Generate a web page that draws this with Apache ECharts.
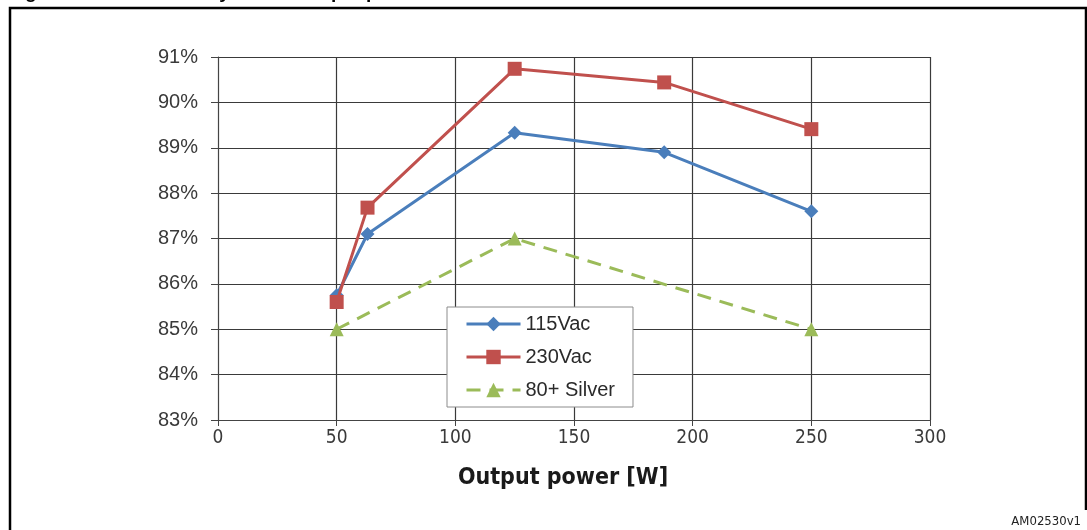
<!DOCTYPE html>
<html>
<head>
<meta charset="utf-8">
<script src="https://cdn.jsdelivr.net/npm/echarts@6/dist/echarts.min.js"></script>
<style>
  html, body { margin: 0; padding: 0; background: #fff; }
  #chart { width: 1087px; height: 530px; }
</style>
</head>
<body>
<div id="chart"></div>
<script>
// output power [W]
const powerLow = [50, 63, 125, 188, 250];
const powerSilver = [50, 125, 250];
// efficiency [%]
const eff115 = [85.75, 87.1, 89.33, 88.9, 87.6];
const eff230 = [85.6, 87.68, 90.74, 90.44, 89.41];
const effSilver = [85, 87, 85];

const seriesNames = ['115Vac', '230Vac', '80+ Silver'];
const xTicks = { min: 0, max: 300, step: 50 };
const yTicks = { min: 83, max: 91, step: 1 };

const narrow = '"DejaVu Sans Condensed", "Liberation Sans", sans-serif';

function pairs(xs, ys) {
  return xs.map((x, i) => [x, ys[i]]);
}

const chart = echarts.init(document.getElementById('chart'));

const options = {
  backgroundColor: '#fff',
  animation: false,
  textStyle: { fontFamily: 'Liberation Sans' },
  grid: {
    left: 218,
    right: 157,
    top: 57,
    bottom: 110,
  },
  xAxis: {
    type: 'value',
    min: xTicks.min,
    max: xTicks.max,
    interval: xTicks.step,
    name: 'Output power [W]',
    nameLocation: 'middle',
    nameGap: 47,
    nameTextStyle: {
      fontFamily: narrow,
      fontWeight: 'bold',
      fontSize: 23,
      color: '#1a1a1a',
      padding: [0, 22, 0, 0],
    },
    axisLine: { show: true, lineStyle: { color: '#444', width: 1 } },
    axisTick: { show: true, length: 6, lineStyle: { color: '#444' } },
    axisLabel: {
      margin: 9,
      fontFamily: narrow,
      fontSize: 19,
      color: '#3a3a3a',
    },
    splitLine: { show: true, lineStyle: { color: '#3a3a3a', width: 1.2 } },
  },
  yAxis: {
    type: 'value',
    min: yTicks.min,
    max: yTicks.max,
    interval: yTicks.step,
    axisLine: { show: true, lineStyle: { color: '#444', width: 1 } },
    axisTick: { show: true, length: 7, lineStyle: { color: '#444' } },
    axisLabel: {
      margin: 20,
      fontSize: 20,
      color: '#3a3a3a',
      formatter: '{value}%',
    },
    splitLine: { show: true, lineStyle: { color: '#3a3a3a', width: 1.2 } },
  },
  legend: {
    orient: 'vertical',
    left: 447,
    top: 307,
    padding: [6, 18, 6, 18],
    itemGap: 11,
    itemWidth: 54,
    itemHeight: 18,
    backgroundColor: '#fff',
    borderColor: '#8c8c8c',
    borderWidth: 1,
    lineStyle: { width: 3 },
    textStyle: { fontSize: 20, lineHeight: 22, color: '#2a2a2a' },
    data: seriesNames,
  },
  graphic: [
    {
      // figure frame
      type: 'polyline',
      shape: { points: [[10, 560], [10, 8], [1086, 8], [1086, 510]] },
      style: { stroke: '#000', lineWidth: 2.5, fill: null },
      silent: true,
    },
    {
      type: 'text',
      left: 8,
      top: -17,
      style: {
        text: 'Figure 9.          Efficiency versus output power',
        font: 'bold 19px "Liberation Sans"',
        fill: '#000',
      },
      silent: true,
    },
    {
      type: 'text',
      right: 6,
      top: 515,
      style: {
        text: 'AM02530v1',
        font: '13px "DejaVu Sans Condensed", "Liberation Sans"',
        fill: '#222',
      },
      silent: true,
    },
  ],
  series: [
    {
      name: seriesNames[0],
      type: 'line',
      data: pairs(powerLow, eff115),
      symbol: 'diamond',
      symbolSize: 14,
      itemStyle: { color: '#4a7ebb' },
      lineStyle: { width: 3, color: '#4a7ebb' },
      z: 3,
    },
    {
      name: seriesNames[1],
      type: 'line',
      data: pairs(powerLow, eff230),
      symbol: 'rect',
      symbolSize: 14,
      itemStyle: { color: '#c0504d' },
      lineStyle: { width: 3, color: '#c0504d' },
      z: 4,
    },
    {
      name: seriesNames[2],
      type: 'line',
      data: pairs(powerSilver, effSilver),
      symbol: 'triangle',
      symbolSize: 14,
      itemStyle: { color: '#9bbb59' },
      lineStyle: { width: 3, color: '#9bbb59', type: [14, 9] },
      z: 2,
    },
  ],
};

chart.setOption(options);
</script>
</body>
</html>
